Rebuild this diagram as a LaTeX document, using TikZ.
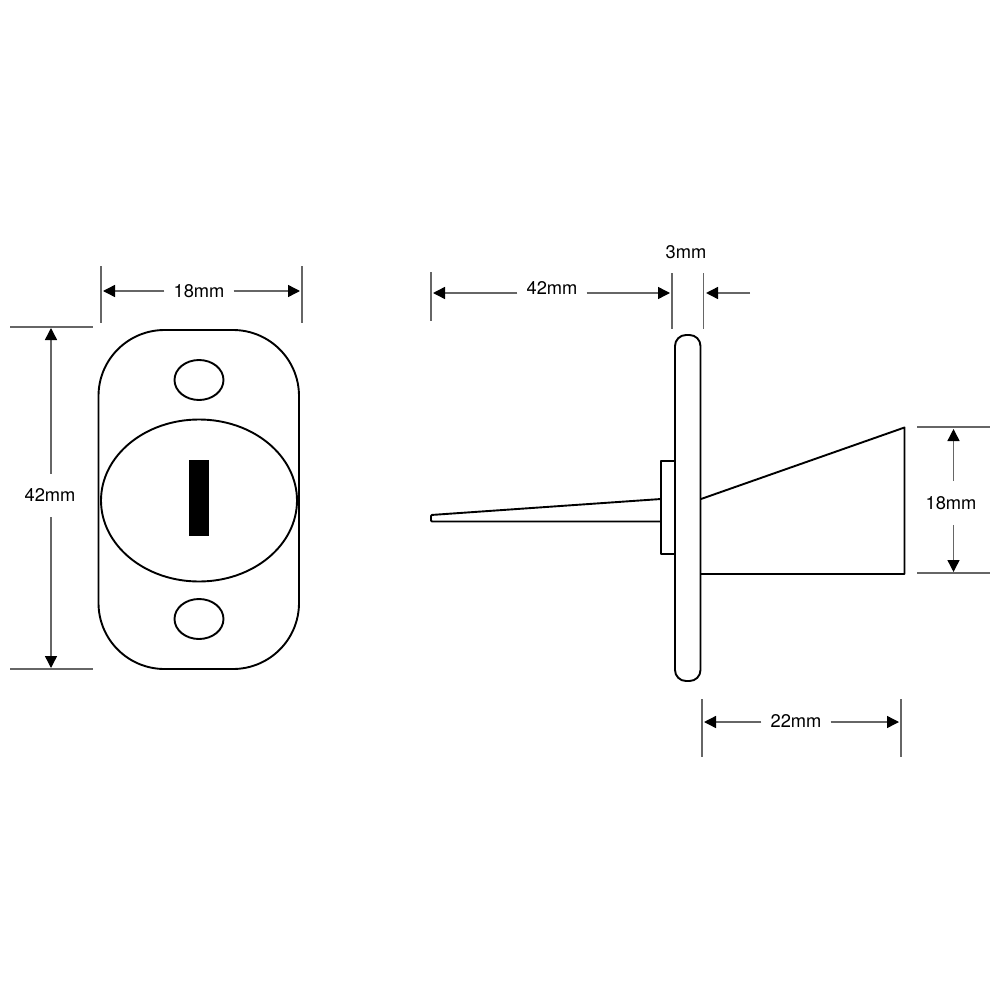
\documentclass[tikz,border=0pt]{standalone}
\usepackage{fontspec}
\setmainfont{TeX Gyre Heros}
\usetikzlibrary{arrows.meta}

\tikzset{
	part/.style={draw=black, line width=1.9pt, line join=round},
	extline/.style={draw=black!60, line width=1.4pt},
	dimline/.style={draw=black!60, line width=1.4pt, -{Triangle[length=12pt,width=12pt,black]}},
	dimtext/.style={draw=none, font=\fontsize{18.3}{20}\selectfont, inner xsep=9pt, inner ysep=15pt}
}

\begin{document}
\begin{tikzpicture}[x=1pt, y=-1pt]
\useasboundingbox (0,0) rectangle (1000,1000);

\draw [part, rounded corners=66pt] (98.5,330) rectangle (299,669);
\foreach \y in {380, 619}
{
	\draw [part] (199,\y) ellipse [x radius=24.5, y radius=20];
}
\draw [part] (199,500.5) ellipse [x radius=98, y radius=81];
\fill [black] (189,460) rectangle (209,536);

\foreach \x in {101, 302}
{
	\draw [extline] (\x,266) -- (\x,323);
}
\foreach \y in {327, 669}
{
	\draw [extline] (10,\y) -- (93,\y);
}

\path (199,291) node[dimtext] (widthFront) {18mm};
\path (103,291) coordinate (widthFrontL);
\path (300,291) coordinate (widthFrontR);
\draw [dimline] (widthFront.west |- widthFrontL) -- (widthFrontL);
\draw [dimline] (widthFront.east |- widthFrontR) -- (widthFrontR);

\path (50,495.5) node[dimtext] (heightFront) {42mm};
\path (51,328) coordinate (heightFrontT);
\path (51,668) coordinate (heightFrontB);
\draw [dimline] (heightFront.north -| heightFrontT) -- (heightFrontT);
\draw [dimline] (heightFront.south -| heightFrontB) -- (heightFrontB);

\draw [part, rounded corners=11pt] (675,335) rectangle (700.5,681);
\draw [part] (675,461) -- (661,461) -- (661,554) -- (675,554);
\draw [part, rounded corners=1pt] (661,499) -- (431,515) -- (431,521.5) -- (661,521.5);
\draw [part] (701,499) -- (904.5,427.5) -- (904.5,574) -- (701,574);

\foreach \x in {672, 703.5}
{
	\draw [extline] (\x,273) -- (\x,329);
}
\draw [extline] (431,272) -- (431,321);
\foreach \x in {702, 901}
{
	\draw [extline] (\x,699) -- (\x,757);
}
\foreach \y in {427, 573}
{
	\draw [extline] (917,\y) -- (990,\y);
}

\path (552,288) node[dimtext] (lengthPin) {42mm};
\path (433,293) coordinate (lengthPinL);
\path (670,293) coordinate (lengthPinR);
\draw [dimline] (lengthPin.east |- lengthPinL) -- (lengthPinR);
\draw [dimline] (lengthPin.west |- lengthPinL) -- (lengthPinL);

\path (686,252) node[dimtext] (plate) {3mm};
\path (750,293) coordinate (plateR);
\path (706,293) coordinate (plateL);
\draw [dimline] (plateR) -- (plateL);

\path (796,721) node[dimtext] (lengthCam) {22mm};
\path (704,722) coordinate (lengthCamL);
\path (899,722) coordinate (lengthCamR);
\draw [dimline] (lengthCam.west |- lengthCamL) -- (lengthCamL);
\draw [dimline] (lengthCam.east |- lengthCamR) -- (lengthCamR);

\path (951,503) node[dimtext] (heightCam) {18mm};
\path (953.5,429) coordinate (heightCamT);
\path (953.5,572) coordinate (heightCamB);
\draw [dimline] (heightCam.north -| heightCamT) -- (heightCamT);
\draw [dimline] (heightCam.south -| heightCamB) -- (heightCamB);

\end{tikzpicture}
\end{document}
